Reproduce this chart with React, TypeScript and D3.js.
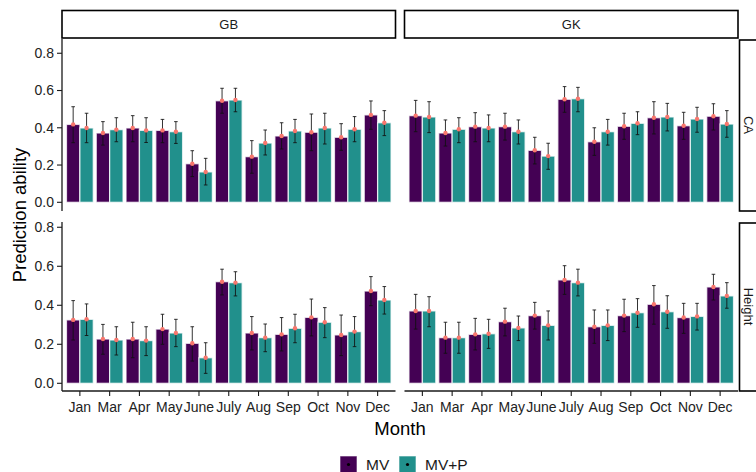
import React, { useRef, useEffect } from "react";
import * as d3 from "d3";

// months shown on the x axis (no Feb in the data)
const MONTHS = ["Jan", "Mar", "Apr", "May", "June", "July", "Aug", "Sep", "Oct", "Nov", "Dec"];
const SERIES = ["MV", "MV+P"];
const COLORS = ["#440154", "#21908C"];
const Y_TICKS = [0, 0.2, 0.4, 0.6, 0.8];
const COL_LABELS = ["GB", "GK"];
const ROW_LABELS = ["CA", "Height"];

// GB / CA
const GB_CA_MV = [0.418, 0.372, 0.399, 0.386, 0.207, 0.545, 0.245, 0.356, 0.376, 0.349, 0.469];
const GB_CA_MV_LO = [0.32, 0.307, 0.325, 0.32, 0.138, 0.478, 0.156, 0.286, 0.277, 0.279, 0.392];
const GB_CA_MV_HI = [0.513, 0.433, 0.465, 0.445, 0.277, 0.612, 0.331, 0.427, 0.474, 0.422, 0.544];
const GB_CA_MVP = [0.399, 0.39, 0.386, 0.379, 0.163, 0.549, 0.318, 0.383, 0.399, 0.392, 0.427];
const GB_CA_MVP_LO = [0.32, 0.325, 0.321, 0.316, 0.093, 0.486, 0.254, 0.32, 0.313, 0.325, 0.358];
const GB_CA_MVP_HI = [0.478, 0.454, 0.454, 0.433, 0.236, 0.612, 0.388, 0.445, 0.478, 0.46, 0.492];

// GK / CA
const GK_CA_MV = [0.465, 0.372, 0.406, 0.406, 0.279, 0.553, 0.325, 0.408, 0.454, 0.411, 0.462];
const GK_CA_MV_LO = [0.379, 0.302, 0.325, 0.334, 0.206, 0.483, 0.252, 0.338, 0.367, 0.338, 0.388];
const GK_CA_MV_HI = [0.547, 0.442, 0.481, 0.478, 0.349, 0.621, 0.4, 0.478, 0.54, 0.483, 0.529];
const GK_CA_MVP = [0.458, 0.392, 0.399, 0.379, 0.248, 0.556, 0.379, 0.424, 0.458, 0.447, 0.42];
const GK_CA_MVP_LO = [0.374, 0.32, 0.325, 0.313, 0.177, 0.486, 0.307, 0.363, 0.383, 0.376, 0.349];
const GK_CA_MVP_HI = [0.54, 0.454, 0.469, 0.442, 0.317, 0.617, 0.445, 0.486, 0.531, 0.51, 0.492];

// GB / Height
const GB_H_MV = [0.325, 0.227, 0.227, 0.278, 0.205, 0.521, 0.258, 0.251, 0.338, 0.248, 0.473];
const GB_H_MV_LO = [0.222, 0.149, 0.131, 0.2, 0.114, 0.453, 0.171, 0.166, 0.243, 0.142, 0.398];
const GB_H_MV_HI = [0.424, 0.302, 0.313, 0.354, 0.29, 0.585, 0.342, 0.337, 0.432, 0.35, 0.547];
const GB_H_MVP = [0.328, 0.222, 0.219, 0.258, 0.131, 0.516, 0.234, 0.282, 0.313, 0.265, 0.427];
const GB_H_MVP_LO = [0.245, 0.145, 0.142, 0.188, 0.051, 0.448, 0.162, 0.208, 0.234, 0.188, 0.355];
const GB_H_MVP_HI = [0.407, 0.29, 0.29, 0.328, 0.208, 0.572, 0.304, 0.354, 0.388, 0.342, 0.496];

// GK / Height
const GK_H_MV = [0.371, 0.234, 0.251, 0.316, 0.347, 0.53, 0.29, 0.347, 0.405, 0.337, 0.494];
const GK_H_MV_LO = [0.278, 0.154, 0.171, 0.243, 0.278, 0.456, 0.205, 0.265, 0.303, 0.256, 0.427];
const GK_H_MV_HI = [0.456, 0.313, 0.333, 0.385, 0.415, 0.603, 0.376, 0.431, 0.501, 0.41, 0.559];
const GK_H_MVP = [0.371, 0.234, 0.254, 0.284, 0.297, 0.516, 0.297, 0.362, 0.367, 0.343, 0.448];
const GK_H_MVP_LO = [0.29, 0.154, 0.179, 0.219, 0.222, 0.448, 0.219, 0.287, 0.282, 0.273, 0.385];
const GK_H_MVP_HI = [0.444, 0.313, 0.328, 0.345, 0.371, 0.585, 0.376, 0.434, 0.449, 0.41, 0.516];

const PANELS = [
  { row: 0, col: 0, series: [[GB_CA_MV, GB_CA_MV_LO, GB_CA_MV_HI], [GB_CA_MVP, GB_CA_MVP_LO, GB_CA_MVP_HI]] },
  { row: 0, col: 1, series: [[GK_CA_MV, GK_CA_MV_LO, GK_CA_MV_HI], [GK_CA_MVP, GK_CA_MVP_LO, GK_CA_MVP_HI]] },
  { row: 1, col: 0, series: [[GB_H_MV, GB_H_MV_LO, GB_H_MV_HI], [GB_H_MVP, GB_H_MVP_LO, GB_H_MVP_HI]] },
  { row: 1, col: 1, series: [[GK_H_MV, GK_H_MV_LO, GK_H_MV_HI], [GK_H_MVP, GK_H_MVP_LO, GK_H_MVP_HI]] },
];

const W = 756;
const H = 472;
const FONT = "Liberation Sans, Arial, Helvetica, sans-serif";

// panel boxes
const COLS = [
  { x0: 62, x1: 395.5 },
  { x0: 404.5, x1: 738 },
];
const ROWS = [
  { y0: 39, y1: 211, domain: [-0.0467, 0.8765] },
  { y0: 222, y1: 391, domain: [-0.0395, 0.827] },
];

const App = () => {
  const svgRef = useRef<SVGSVGElement>(null);

  useEffect(() => {
    document.body.style.margin = "0";
    const svg = d3.select(svgRef.current);
    svg.selectAll("*").remove();
    svg.attr("width", W).attr("height", H).style("font-family", FONT);

    svg.append("rect").attr("width", W).attr("height", H).attr("fill", "white");

    const ink = "#1a1a1a";

    PANELS.forEach((p) => {
      const c = COLS[p.col];
      const r = ROWS[p.row];
      const x = d3
        .scalePoint<string>()
        .domain(MONTHS)
        .range([c.x0, c.x1])
        .padding(0.6);
      const unit = x.step();
      const y = d3.scaleLinear().domain(r.domain).range([r.y1, r.y0]);
      const g = svg.append("g");
      const barW = unit * 0.45;

      p.series.forEach(([mean, lo, hi], si) => {
        const off = si === 0 ? -barW / 2 : barW / 2;
        const sg = g.append("g");
        sg.selectAll("rect")
          .data(mean)
          .enter()
          .append("rect")
          .attr("x", (_, i) => (x(MONTHS[i]) as number) + off - barW / 2)
          .attr("width", barW)
          .attr("y", (d) => y(d))
          .attr("height", (d) => y(0) - y(d))
          .attr("fill", COLORS[si])
          .attr("stroke", "white")
          .attr("stroke-opacity", 0.75)
          .attr("stroke-width", 1.3);

        const eb = sg.append("g").attr("stroke", "#111").attr("stroke-opacity", 0.85).attr("stroke-width", 1);
        mean.forEach((_, i) => {
          const cx = (x(MONTHS[i]) as number) + off;
          eb.append("line").attr("x1", cx).attr("x2", cx).attr("y1", y(lo[i])).attr("y2", y(hi[i]));
          eb.append("line").attr("x1", cx - 1.8).attr("x2", cx + 1.8).attr("y1", y(lo[i])).attr("y2", y(lo[i]));
          eb.append("line").attr("x1", cx - 1.8).attr("x2", cx + 1.8).attr("y1", y(hi[i])).attr("y2", y(hi[i]));
        });

        sg.selectAll("circle")
          .data(mean)
          .enter()
          .append("circle")
          .attr("cx", (_, i) => (x(MONTHS[i]) as number) + off)
          .attr("cy", (d) => y(d))
          .attr("r", 2.2)
          .attr("fill", "#F8766D");
      });

      // y axis on the left column
      if (p.col === 0) {
        g.append("line")
          .attr("x1", c.x0).attr("x2", c.x0)
          .attr("y1", r.y0).attr("y2", r.y1)
          .attr("stroke", ink).attr("stroke-width", 1.3);
        Y_TICKS.forEach((t) => {
          g.append("line")
            .attr("x1", c.x0 - 5).attr("x2", c.x0)
            .attr("y1", y(t)).attr("y2", y(t))
            .attr("stroke", ink).attr("stroke-width", 1.1);
          g.append("text")
            .attr("x", c.x0 - 8)
            .attr("y", y(t))
            .attr("dy", "0.35em")
            .attr("text-anchor", "end")
            .attr("font-size", 14)
            .attr("fill", "#222")
            .text(d3.format(".1f")(t));
        });
      }

      // x axis on the bottom row
      if (p.row === 1) {
        g.append("line")
          .attr("x1", c.x0).attr("x2", c.x1)
          .attr("y1", r.y1).attr("y2", r.y1)
          .attr("stroke", ink).attr("stroke-width", 1.3);
        MONTHS.forEach((m) => {
          const px = x(m) as number;
          g.append("line")
            .attr("x1", px).attr("x2", px)
            .attr("y1", r.y1).attr("y2", r.y1 + 5)
            .attr("stroke", ink).attr("stroke-width", 1.1);
          g.append("text")
            .attr("x", px)
            .attr("y", 412)
            .attr("text-anchor", "middle")
            .attr("font-size", 14)
            .attr("fill", "#222")
            .text(m);
        });
      }
    });

    // top strips
    COLS.forEach((c, i) => {
      svg.append("rect")
        .attr("x", c.x0).attr("y", 10.5)
        .attr("width", c.x1 - c.x0).attr("height", 27.5)
        .attr("fill", "white").attr("stroke", "black").attr("stroke-width", 1.6);
      svg.append("text")
        .attr("x", (c.x0 + c.x1) / 2).attr("y", 24.5)
        .attr("dy", "0.35em")
        .attr("text-anchor", "middle")
        .attr("font-size", 13)
        .attr("fill", ink)
        .text(COL_LABELS[i]);
    });

    // right strips (cut by the image edge, like the original)
    ROWS.forEach((r, i) => {
      svg.append("rect")
        .attr("x", 739.5).attr("y", r.y0 + 1)
        .attr("width", 27.5).attr("height", r.y1 - r.y0 - 1)
        .attr("fill", "white").attr("stroke", "black").attr("stroke-width", 1.6);
      const cy = (r.y0 + r.y1) / 2;
      svg.append("text")
        .attr("transform", `translate(748.5,${cy}) rotate(90)`)
        .attr("dy", "0.35em")
        .attr("text-anchor", "middle")
        .attr("font-size", 13)
        .attr("fill", ink)
        .text(ROW_LABELS[i]);
    });

    // axis titles
    svg.append("text")
      .attr("x", 400).attr("y", 435)
      .attr("text-anchor", "middle")
      .attr("font-size", 18.5)
      .attr("fill", "black")
      .text("Month");
    svg.append("text")
      .attr("transform", "translate(26,215) rotate(-90)")
      .attr("text-anchor", "middle")
      .attr("font-size", 18.5)
      .attr("fill", "black")
      .text("Prediction ability");

    // legend
    const legX = [340, 399];
    SERIES.forEach((s, i) => {
      const lg = svg.append("g");
      lg.append("rect")
        .attr("x", legX[i]).attr("y", 456)
        .attr("width", 17).attr("height", 17)
        .attr("fill", COLORS[i])
        .attr("stroke", "white").attr("stroke-opacity", 0.6).attr("stroke-width", 1);
      lg.append("circle")
        .attr("cx", legX[i] + 8.5).attr("cy", 464.5)
        .attr("r", 1.6).attr("fill", "black");
      lg.append("text")
        .attr("x", legX[i] + 26).attr("y", 470)
        .attr("font-size", 15.5)
        .attr("fill", ink)
        .text(s);
    });
  }, []);

  return <svg ref={svgRef} style={{ display: "block" }}></svg>;
};

export default App;
